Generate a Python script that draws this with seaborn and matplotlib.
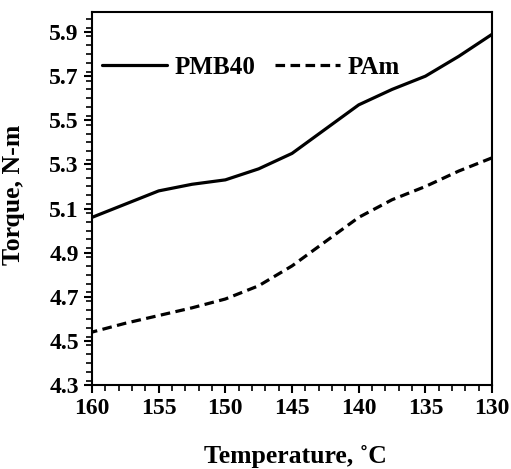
import matplotlib
matplotlib.use("Agg")
import matplotlib.pyplot as plt
from matplotlib.ticker import MultipleLocator
import seaborn as sns
import pandas as pd

temperature = [160, 157.5, 155, 152.5, 150, 147.5, 145, 142.5, 140, 137.5, 135, 132.5, 130]
pmb40 = [5.06, 5.12, 5.18, 5.21, 5.23, 5.28, 5.35, 5.46, 5.57, 5.64, 5.70, 5.79, 5.89]
pam = [4.54, 4.58, 4.615, 4.65, 4.69, 4.75, 4.84, 4.95, 5.06, 5.14, 5.20, 5.27, 5.33]
series_names = ["PMB40", "PAm"]
y_ticks = [4.3, 4.5, 4.7, 4.9, 5.1, 5.3, 5.5, 5.7, 5.9]
x_ticks = [160, 155, 150, 145, 140, 135, 130]

df = pd.DataFrame({
    "Temperature": temperature * 2,
    "Torque": pmb40 + pam,
    "Series": [series_names[0]] * len(temperature) + [series_names[1]] * len(temperature),
})

sns.set_style("ticks")
plt.rcParams['font.family'] = ['Liberation Serif', 'DejaVu Serif']
plt.rcParams['font.weight'] = 'bold'
plt.rcParams['text.color'] = 'black'
plt.rcParams['axes.labelcolor'] = 'black'
plt.rcParams['xtick.color'] = 'black'
plt.rcParams['ytick.color'] = 'black'

fig, ax = plt.subplots(figsize=(5.11, 4.69), dpi=100)
fig.subplots_adjust(left=0.180, right=0.963, top=0.974, bottom=0.179)

sns.lineplot(data=df, x="Temperature", y="Torque", style="Series",
             dashes={"PMB40": "", "PAm": (3.0, 1.7)},
             color="black", linewidth=2.3, ax=ax, legend=True)

ax.set_xlim(160, 130)
ax.set_ylim(4.3, 5.99)
ax.set_xticks(x_ticks)
ax.set_yticks(y_ticks)
ax.set_yticklabels([f"{v:.1f}" for v in y_ticks])
ax.xaxis.set_minor_locator(MultipleLocator(1))
ax.yaxis.set_minor_locator(MultipleLocator(0.04))
ax.tick_params(axis='both', which='major', direction='out', length=5.5, width=1.5,
               labelsize=17, pad=4, colors='black')
ax.tick_params(axis='both', which='minor', direction='out', length=4, width=1.2,
               colors='black')
for lbl in ax.get_xticklabels() + ax.get_yticklabels():
    lbl.set_fontweight('bold')
for sp in ax.spines.values():
    sp.set_visible(True)
    sp.set_linewidth(1.5)
    sp.set_color('black')

ax.set_xlabel("Temperature, ˚C", fontsize=18.5, fontweight='bold', color='black')
ax.set_ylabel("Torque, N-m", fontsize=18.5, fontweight='bold', color='black')
ax.xaxis.set_label_coords(0.508, -0.16)
ax.yaxis.set_label_coords(-0.168, 0.51)

leg = ax.legend(loc="center left", ncol=2, frameon=False, handlelength=2.6,
                columnspacing=0.8, handletextpad=0.3, borderpad=0, borderaxespad=0,
                bbox_to_anchor=(0.025, 0.852),
                prop={'family': 'Liberation Serif', 'weight': 'bold', 'size': 18})
for t in leg.get_texts():
    t.set_color('black')
leg.set_title(None)

fig.savefig("out.png", dpi=100)
